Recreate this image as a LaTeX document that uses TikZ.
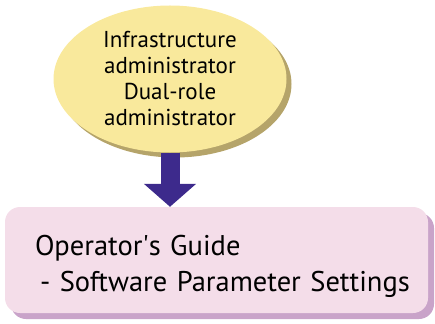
\documentclass[tikz,border=0pt]{standalone}
\usepackage{fontspec}
\setmainfont{PT Sans}
\usepackage{tikz}
\usetikzlibrary{shapes.geometric}
\usetikzlibrary{arrows.meta}
\usetikzlibrary{shadows}
\usepackage{color}
\definecolor{sand}{RGB}{249, 233, 156}
\definecolor{olive}{RGB}{181, 164, 106}
\definecolor{indigo}{RGB}{61, 42, 140}
\definecolor{blush}{RGB}{244, 221, 233}
\definecolor{mauve}{RGB}{201, 163, 201}

\begin{document}
\begin{tikzpicture}[x=1pt, y=-1pt,
    role/.style={ellipse, fill=sand, minimum width=233pt, minimum height=147pt, inner sep=0pt,
                 align=center, font=\fontsize{23}{26}\selectfont,
                 drop shadow={shadow xshift=5pt, shadow yshift=-5pt, fill=olive, opacity=1}},
    guide/.style={rectangle, rounded corners=15pt, fill=blush, minimum width=423pt, minimum height=106pt,
                 inner xsep=30pt, text width=363pt, align=left, font=\fontsize{28.5}{36}\selectfont,
                 drop shadow={shadow xshift=6pt, shadow yshift=-6pt, fill=mauve, opacity=1}}]
    \useasboundingbox (0,0) rectangle (435,323);
    \node[guide] (guidebox) at (216.5,260) {\rule{0pt}{33pt}\mbox{Operator\textquotesingle s Guide}\\\mbox{\hspace*{5pt}- Software Parameter Settings}};
    \node[role]  (rolebox)  at (170,79)    {Infrastructure\\administrator\\Dual-role\\administrator};
    \draw[indigo, line width=19pt, -{Triangle[width=51pt, length=23pt]}] (rolebox.south) -- (rolebox.south |- guidebox.north);
\end{tikzpicture}
\end{document}
